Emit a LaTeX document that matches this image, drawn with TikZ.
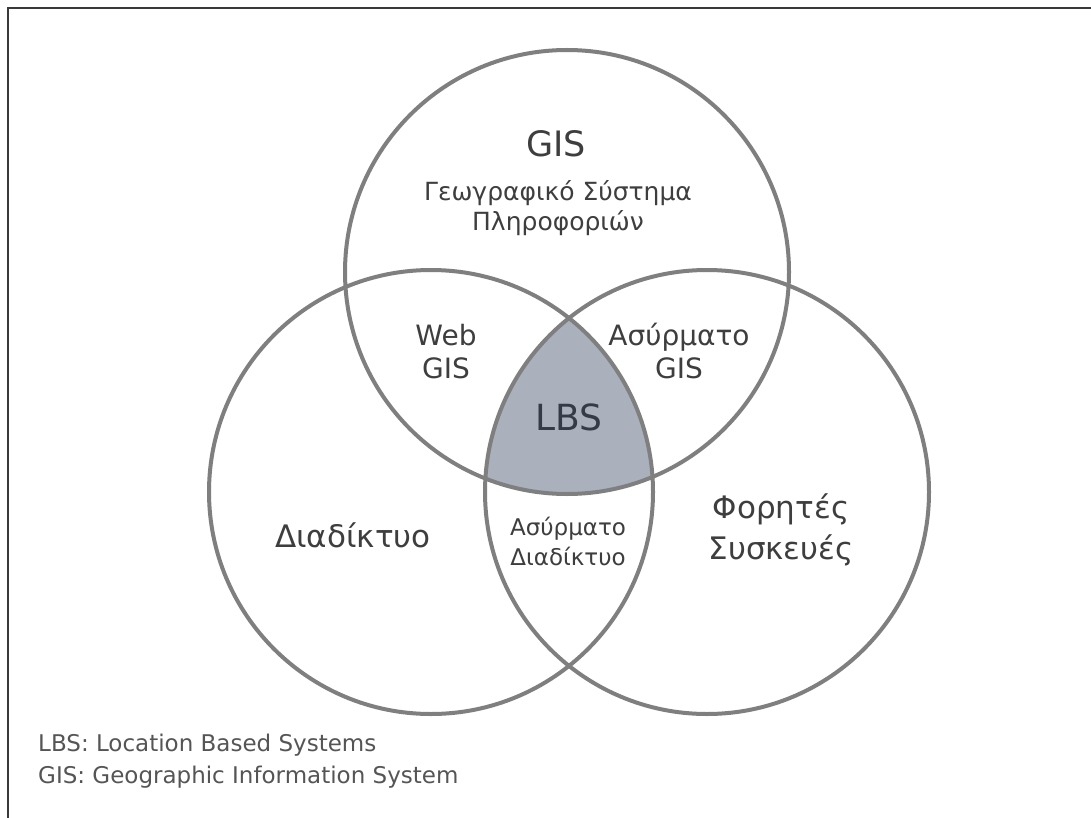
\documentclass[tikz,border=0pt]{standalone}
\usepackage{fontspec}
\setmainfont{DejaVu Sans}

\definecolor{ringgray}{HTML}{7F7F7F}
\definecolor{framegray}{HTML}{3A3A3A}
\definecolor{lbsfill}{HTML}{AAB1BD}
\definecolor{labelgray}{HTML}{3E3E3E}
\definecolor{lbstext}{HTML}{343B46}
\definecolor{legendgray}{HTML}{555555}

\begin{document}
\begin{tikzpicture}[x=1pt,y=-1pt,
  ring/.style={draw=ringgray, line width=4pt},
  framelines/.style={draw=framegray, line width=2.5pt},
  % multi-line labels sit on the baseline of their last line
  label/.style={text=labelgray, inner sep=0pt, anchor=base, align=center},
  bigtitle/.style={label, font=\fontsize{35}{40}\selectfont},
  subtitle/.style={label, font=\fontsize{25}{29}\selectfont},
  lenslabel/.style={label, font=\fontsize{28}{33}\selectfont},
  setlabel/.style={label, font=\fontsize{31}{41}\selectfont},
  smalllens/.style={label, font=\fontsize{23}{30}\selectfont},
  corelabel/.style={label, text=lbstext, font=\fontsize{36}{40}\selectfont},
  legend/.style={text=legendgray, inner sep=0pt, anchor=base west,
    font=\fontsize{23}{32}\selectfont}
]
\useasboundingbox (0,0) rectangle (1091,818);
\fill[white] (0,0) rectangle (1091,818);

% outer frame: top and left edges only
\draw[framelines] (8,818) -- (8,8) -- (1091,8);

% circle centres
\coordinate (cT) at (567,272);
\coordinate (cL) at (431,492);
\coordinate (cR) at (707,492);

% shaded triple intersection
\begin{scope}
  \clip (cL) circle[radius=222pt];
  \clip (cR) circle[radius=222pt];
  \fill[lbsfill] (cT) circle[radius=222pt];
\end{scope}

% the three sets
\draw[ring] (cT) circle[radius=222pt];
\draw[ring] (cL) circle[radius=222pt];
\draw[ring] (cR) circle[radius=222pt];

% labels
\node[bigtitle] (gis) at (556,157) {GIS};
\node[subtitle] (gisfull) at (558,230) {Γεωγραφικό Σύστημα\\Πληροφοριών};
\node[lenslabel] (webgis) at (446,378) {Web\\GIS};
\node[lenslabel] (wlgis) at (679,378) {Ασύρματο\\GIS};
\node[corelabel] (lbs) at (569,430) {LBS};
\node[setlabel] (net) at (353,547) {Διαδίκτυο};
\node[setlabel] (mobile) at (781,559) {Φορητές\\Συσκευές};
\node[smalllens] (wlnet) at (568,565) {Ασύρματο\\Διαδίκτυο};

% legend
\node[legend] (leg1) at (38,751) {LBS: Location Based Systems};
\node[legend] (leg2) at (38,783) {GIS: Geographic Information System};
\end{tikzpicture}
\end{document}
